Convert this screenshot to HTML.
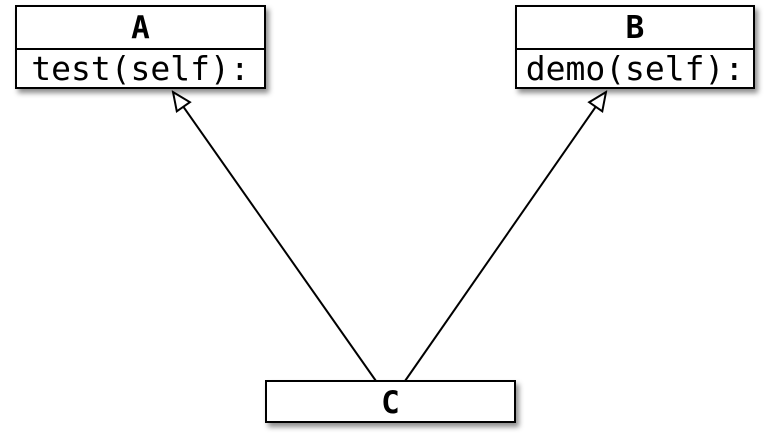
<!DOCTYPE html>
<html><head><style>
body{margin:0;width:773px;height:435px;background:#fff;overflow:hidden;position:relative;font-family:"DejaVu Sans Mono","Liberation Mono",monospace}
.b{position:absolute;background:#fff;border:2px solid #000;box-sizing:border-box;box-shadow:3px 4px 5px rgba(0,0,0,.45)}
.t{height:41px;line-height:43px;text-align:center;font-weight:bold;font-size:31px;border-bottom:2px solid #000}
.m{height:38px;line-height:38px;text-align:center;font-size:33px}
</style></head><body>
<svg width="773" height="435" style="position:absolute;left:0;top:0">
<defs><marker id="h" markerWidth="22" markerHeight="22" refX="20" refY="11" orient="auto" markerUnits="userSpaceOnUse">
<path d="M2,3 L20,11 L2,19 Z" fill="#fff" stroke="#000" stroke-width="2"/></marker></defs>
<line x1="376" y1="381" x2="173" y2="92" stroke="#000" stroke-width="2" marker-end="url(#h)"/>
<line x1="405" y1="381" x2="606" y2="92" stroke="#000" stroke-width="2" marker-end="url(#h)"/>
</svg>
<div class="b" style="left:15px;top:5px;width:251px;height:84px"><div class="t">A</div><div class="m">test(self):</div></div>
<div class="b" style="left:515px;top:5px;width:240px;height:84px"><div class="t">B</div><div class="m">demo(self):</div></div>
<div class="b" style="left:265px;top:380px;width:251px;height:43px"><div class="t" style="border:none;height:39px;line-height:43px">C</div></div>
</body></html>
